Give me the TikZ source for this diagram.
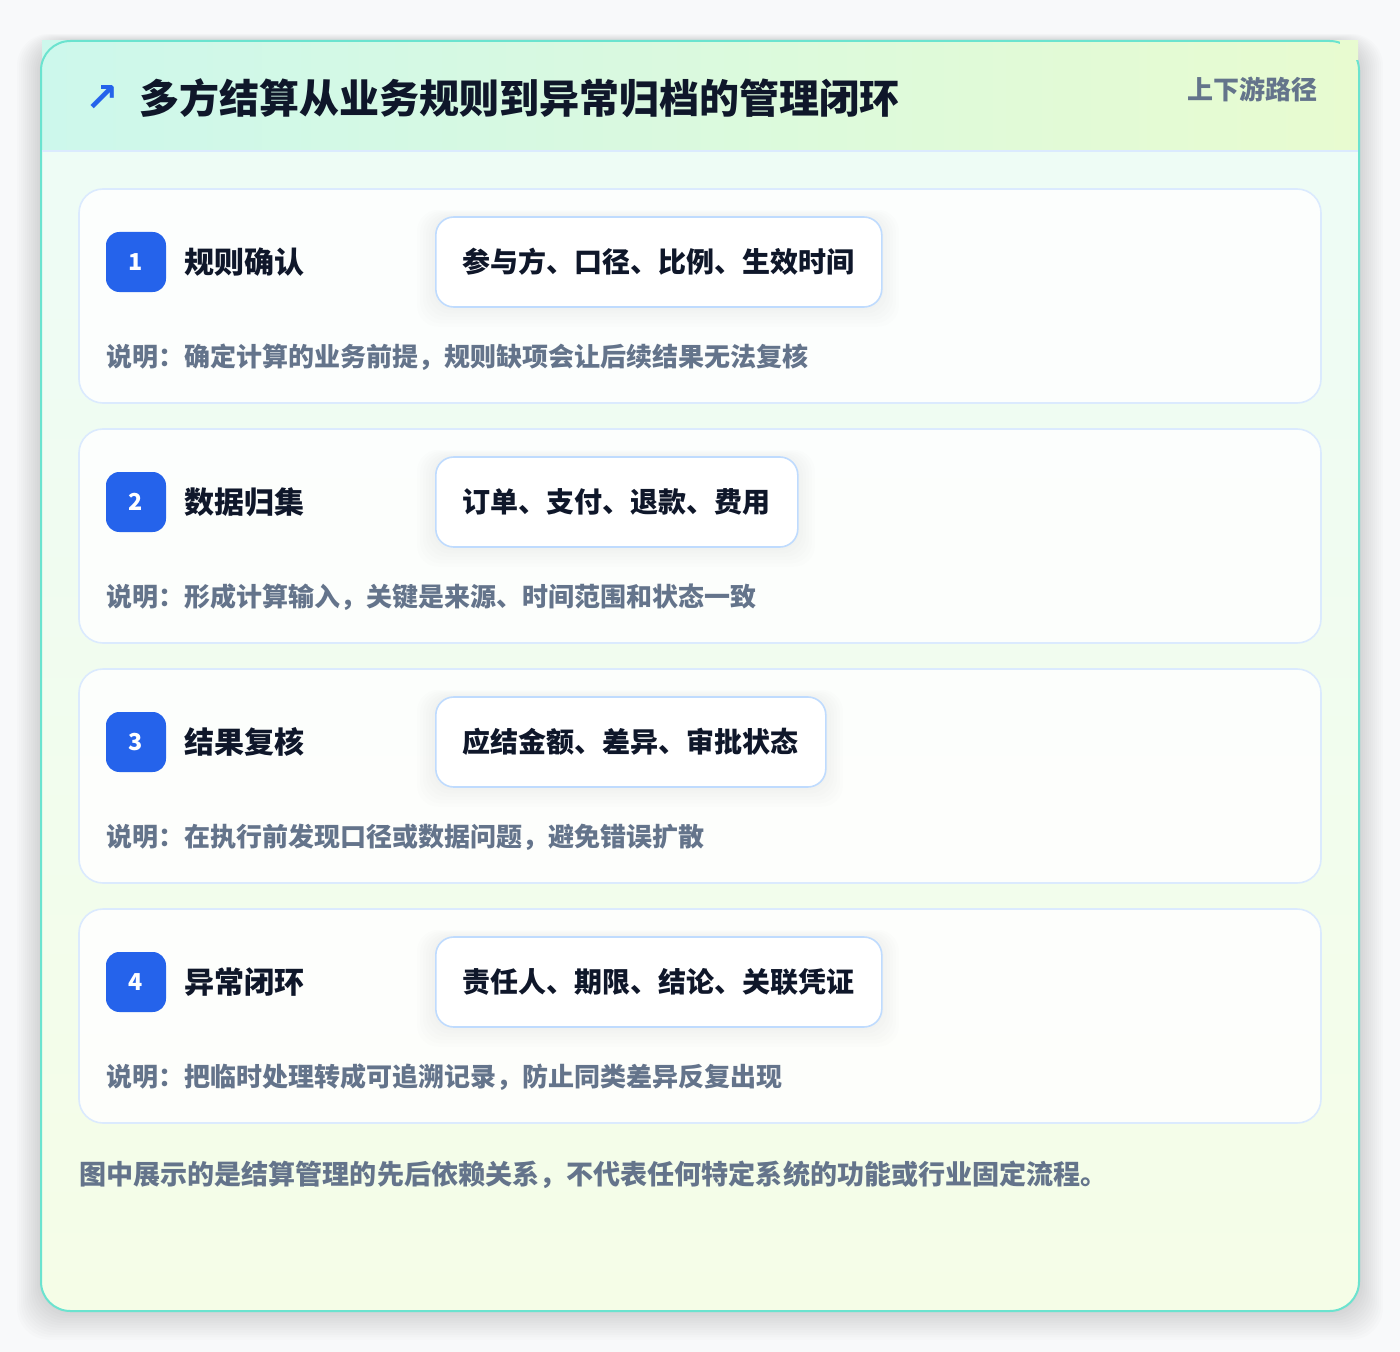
\documentclass[tikz,border=0pt]{standalone}
\usepackage{fontspec}
\setmainfont{Noto Sans CJK SC}
\newfontfamily\symfont{DejaVu Sans}
\usetikzlibrary{positioning}

\definecolor{pagebg}{HTML}{F8F9FA}
\definecolor{cardtop}{HTML}{EDFCF7}
\definecolor{cardbot}{HTML}{F5FDE7}
\definecolor{headL}{HTML}{CDF8EC}
\definecolor{headR}{HTML}{E8FBD0}
\definecolor{teal}{HTML}{6BE3CF}
\definecolor{lineblue}{HTML}{DBEAFE}
\definecolor{tagline}{HTML}{BFDBFE}
\definecolor{badgeblue}{HTML}{2563EB}
\definecolor{ink}{HTML}{0F172A}
\definecolor{slate}{HTML}{64748B}

\begin{document}
\begin{tikzpicture}[x=0.75pt,y=-0.75pt,inner sep=0pt,node distance=13.5pt]
  \tikzstyle{card}=[draw=lineblue,line width=1.2pt,fill=white,fill opacity=.85,
    text opacity=1,rounded corners=18pt,minimum width=931.5pt,minimum height=160.5pt]
  \tikzstyle{badge}=[fill=badgeblue,text=white,rounded corners=10pt,minimum size=45pt,
    font=\bfseries\fontsize{17.5}{21}\selectfont]
  \tikzstyle{steptitle}=[text=ink,anchor=west,font=\bfseries\fontsize{22.5}{27}\selectfont]
  \tikzstyle{tag}=[draw=tagline,line width=1.2pt,fill=white,rounded corners=13.5pt,
    anchor=west,inner xsep=20.25pt,minimum height=67.5pt,text=ink,
    font=\bfseries\fontsize{21}{25}\selectfont]
  \tikzstyle{note}=[text=slate,anchor=west,font=\bfseries\fontsize{19.5}{23}\selectfont]

  \useasboundingbox (0,0) rectangle (1400,1352);
  \fill[pagebg] (0,0) rectangle (1400,1352);

  % soft shadow under the main panel
  \foreach \s in {2,4,...,24}
    \fill[black,opacity=.010,rounded corners=24pt]
      (41-\s,41-\s*.3) rectangle (1359+\s,1311+\s*1.2);

  % main panel
  \shade[top color=cardtop,bottom color=cardbot,rounded corners=22pt]
    (41,41) rectangle (1359,1311);
  \shade[left color=headL,right color=headR] (42,41) rectangle (1358,151);
  \draw[teal,line width=1.5pt,rounded corners=22pt] (41,41) rectangle (1359,1311);
  \fill[headR] (1340,41) rectangle (1358,60);
  \draw[lineblue,line width=1.2pt] (42,151) -- (1358,151);

  \node[text=badgeblue,font=\symfont\bfseries\fontsize{30}{34}\selectfont] (icon) at (102,99) {↗};
  \node[anchor=west,text=ink,font=\bfseries\fontsize{30}{36}\selectfont] (title) at (139,98)
    {多方结算从业务规则到异常归档的管理闭环};
  \node[anchor=east,text=slate,font=\bfseries\fontsize{19.5}{23}\selectfont] (route) at (1318,89)
    {上下游路径};

  % step cards
  \node[card] (C1) at (700,296) {};
  \node[card] (C2) at (700,536) {};
  \node[card] (C3) at (700,776) {};
  \node[card] (C4) at (700,1016) {};

  % soft shadows of the tags
  \foreach \y/\w in {262/881,502/797,742/825,982/881}
    \foreach \s in {3,6,...,18}
      \fill[black,opacity=.008,rounded corners=16pt]
        (435-\s,\y-45-\s*.4) rectangle (\w+\s,\y+45+\s*1.1);

  \node[badge] (B1) at (136,262) {1};
  \node[steptitle,right=of B1] (S1) {规则确认};
  \node[tag] (T1) at (435,262) {参与方、口径、比例、生效时间};
  \node[note] (N1) at (106,357) {说明：确定计算的业务前提，规则缺项会让后续结果无法复核};

  \node[badge] (B2) at (136,502) {2};
  \node[steptitle,right=of B2] (S2) {数据归集};
  \node[tag] (T2) at (435,502) {订单、支付、退款、费用};
  \node[note] (N2) at (106,597) {说明：形成计算输入，关键是来源、时间范围和状态一致};

  \node[badge] (B3) at (136,742) {3};
  \node[steptitle,right=of B3] (S3) {结果复核};
  \node[tag] (T3) at (435,742) {应结金额、差异、审批状态};
  \node[note] (N3) at (106,837) {说明：在执行前发现口径或数据问题，避免错误扩散};

  \node[badge] (B4) at (136,982) {4};
  \node[steptitle,right=of B4] (S4) {异常闭环};
  \node[tag] (T4) at (435,982) {责任人、期限、结论、关联凭证};
  \node[note] (N4) at (106,1077) {说明：把临时处理转成可追溯记录，防止同类差异反复出现};

  \node[anchor=west,text=slate,font=\bfseries\fontsize{20.3}{24}\selectfont] (foot) at (79,1175)
    {图中展示的是结算管理的先后依赖关系，不代表任何特定系统的功能或行业固定流程。};
\end{tikzpicture}
\end{document}
